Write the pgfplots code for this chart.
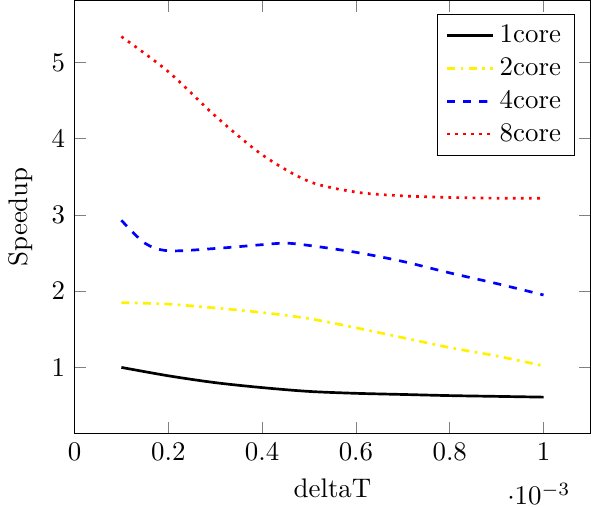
\documentclass[border=0pt]{standalone}
\usepackage{pgfplots}
\pgfplotsset{compat=1.18}
\begin{document}
\begin{tikzpicture}
\begin{axis}[
  scale only axis,
  width=192pt, height=161pt,
  xmin=0,
  xlabel={deltaT},
  ylabel={Speedup},
  legend pos=north east,
]
\addplot[black, line width=1pt, smooth] coordinates {
  (0.0001,1.00) (0.0002,0.89) (0.0003,0.80) (0.0004,0.735) (0.0005,0.685)
  (0.0006,0.66) (0.0007,0.645) (0.0008,0.63) (0.0009,0.62) (0.001,0.61)};
\addlegendentry{1core}
\addplot[yellow, line width=1pt, dashdotted, smooth] coordinates {
  (0.0001,1.85) (0.0002,1.83) (0.0003,1.78) (0.0004,1.72) (0.0005,1.64)
  (0.0006,1.52) (0.0007,1.39) (0.0008,1.26) (0.0009,1.15) (0.001,1.02)};
\addlegendentry{2core}
\addplot[blue, line width=1pt, dashed, smooth] coordinates {
  (0.0001,2.93) (0.00015,2.63) (0.0002,2.53) (0.0003,2.56) (0.0004,2.61)
  (0.00045,2.63) (0.0005,2.60) (0.0006,2.51) (0.0007,2.39) (0.0008,2.24)
  (0.0009,2.10) (0.001,1.95)};
\addlegendentry{4core}
\addplot[red, line width=1pt, dotted, smooth] coordinates {
  (0.0001,5.34) (0.0002,4.88) (0.0003,4.30) (0.0004,3.79) (0.0005,3.44)
  (0.0006,3.30) (0.0007,3.25) (0.0008,3.23) (0.0009,3.22) (0.001,3.22)};
\addlegendentry{8core}
\end{axis}
\end{tikzpicture}
\end{document}
